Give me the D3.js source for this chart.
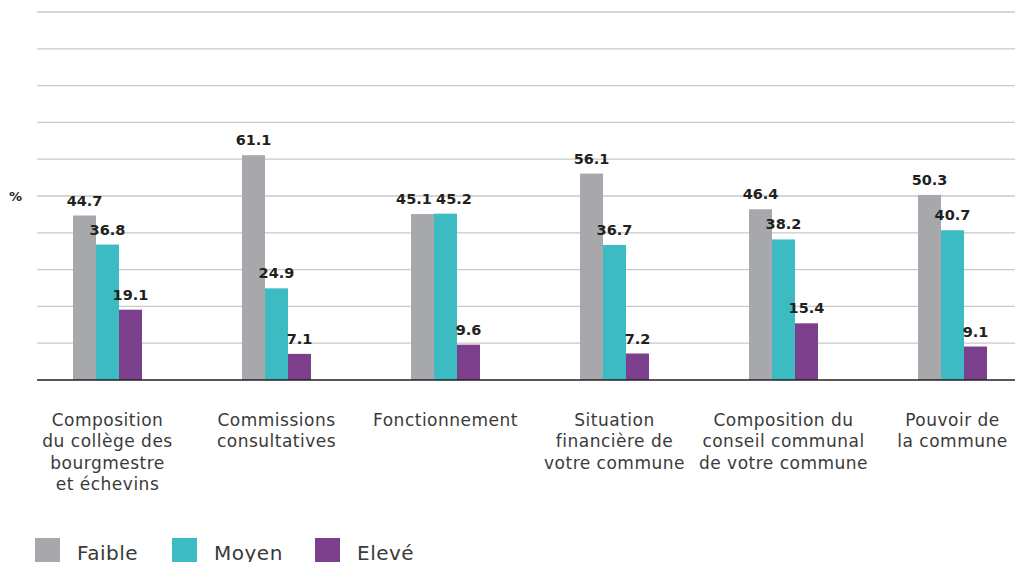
<!DOCTYPE html>
<html>
<head>
<meta charset="utf-8">
<script src="https://cdn.jsdelivr.net/npm/d3@7"></script>
<style>
  body { margin: 0; background: #fff; }
  svg { display: block; }
  text { font-family: "DejaVu Sans", sans-serif; fill: #231f20; }
</style>
</head>
<body>
<svg width="1015" height="562"></svg>
<script>
var categories = [
    ["Composition", "du collège des", "bourgmestre", "et échevins"],
    ["Commissions", "consultatives"],
    ["Fonctionnement"],
    ["Situation", "financière de", "votre commune"],
    ["Composition du", "conseil communal", "de votre commune"],
    ["Pouvoir de", "la commune"]
];
var seriesNames = ["Faible", "Moyen", "Elevé"];
var faible = [44.7, 61.1, 45.1, 56.1, 46.4, 50.3];
var moyen = [36.8, 24.9, 45.2, 36.7, 38.2, 40.7];
var eleve = [19.1, 7.1, 9.6, 7.2, 15.4, 9.1];
var yTicks = [0, 10, 20, 30, 40, 50, 60, 70, 80, 90, 100];

var colors = ["#a7a8ab", "#3dbbc2", "#7b3f8c"];
var series = [faible, moyen, eleve];

var svg = d3.select("svg");

var y = d3.scaleLinear().domain([0, 100]).range([380, 12]);

var x0 = d3.scaleBand()
    .domain(d3.range(categories.length))
    .range([23, 1037])
    .paddingInner(0.592)
    .paddingOuter(0.296);

var x1 = d3.scaleBand()
    .domain(d3.range(seriesNames.length))
    .range([0, x0.bandwidth()]);

// gridlines
svg.append("g")
    .selectAll("line")
    .data(yTicks.slice(1))
    .enter().append("line")
    .attr("x1", 37)
    .attr("x2", 1015)
    .attr("y1", d => y(d))
    .attr("y2", d => y(d))
    .attr("stroke", "#c9c9c9")
    .attr("stroke-width", 1.3);

svg.append("text")
    .attr("x", 9)
    .attr("y", y(50) + 5)
    .style("font-size", "13px")
    .style("font-weight", "bold")
    .text("%");

// bars
var groups = svg.append("g")
    .selectAll("g")
    .data(categories)
    .enter().append("g")
    .attr("transform", (d, i) => "translate(" + x0(i) + ",0)");

function groupValues(d, i) {
    var vals = series.map((s, k) => ({ k: k, v: s[i], x: x1(k) + x1.bandwidth() / 2 }));
    // push apart labels of neighbouring bars that sit at nearly the same height
    for (var k = 1; k < vals.length; k++) {
        var a = vals[k - 1], b = vals[k];
        if (Math.abs(y(a.v) - y(b.v)) < 14) {
            var need = 40 - (b.x - a.x);
            if (need > 0) { a.x -= need / 2; b.x += need / 2; }
        }
    }
    return vals;
}

groups.selectAll("rect")
    .data(groupValues)
    .enter().append("rect")
    .attr("x", d => x1(d.k))
    .attr("width", x1.bandwidth())
    .attr("y", d => y(d.v))
    .attr("height", d => y(0) - y(d.v))
    .attr("fill", d => colors[d.k]);

groups.selectAll(".val")
    .data(groupValues)
    .enter().append("text")
    .attr("class", "val")
    .attr("x", d => d.x)
    .attr("y", d => y(d.v) - 10)
    .attr("text-anchor", "middle")
    .style("font-size", "14.5px")
    .style("font-weight", "bold")
    .text(d => d.v.toFixed(1));

// baseline
svg.append("line")
    .attr("x1", 37)
    .attr("x2", 1015)
    .attr("y1", y(0))
    .attr("y2", y(0))
    .attr("stroke", "#231f20")
    .attr("stroke-width", 1.5);

// category labels
groups.append("text")
    .attr("text-anchor", "middle")
    .attr("transform", "translate(" + x0.bandwidth() / 2 + ",426)")
    .style("font-size", "17px")
    .style("letter-spacing", "0.5px")
    .style("fill", "#3a3a3a")
    .selectAll("tspan")
    .data(d => d)
    .enter().append("tspan")
    .attr("x", 0)
    .attr("y", (d, i) => i * 21.3)
    .text(d => d);

// legend
var legendX = [35, 172, 315];
var legend = svg.append("g")
    .selectAll("g")
    .data(seriesNames)
    .enter().append("g")
    .attr("transform", (d, i) => "translate(" + legendX[i] + ",538)");

legend.append("rect")
    .attr("width", 25)
    .attr("height", 25)
    .attr("fill", (d, i) => colors[i]);

legend.append("text")
    .attr("x", 42)
    .attr("y", 22)
    .style("font-size", "20px")
    .style("letter-spacing", "0.5px")
    .style("fill", "#3a3a3a")
    .text(d => d);
</script>
</body>
</html>
